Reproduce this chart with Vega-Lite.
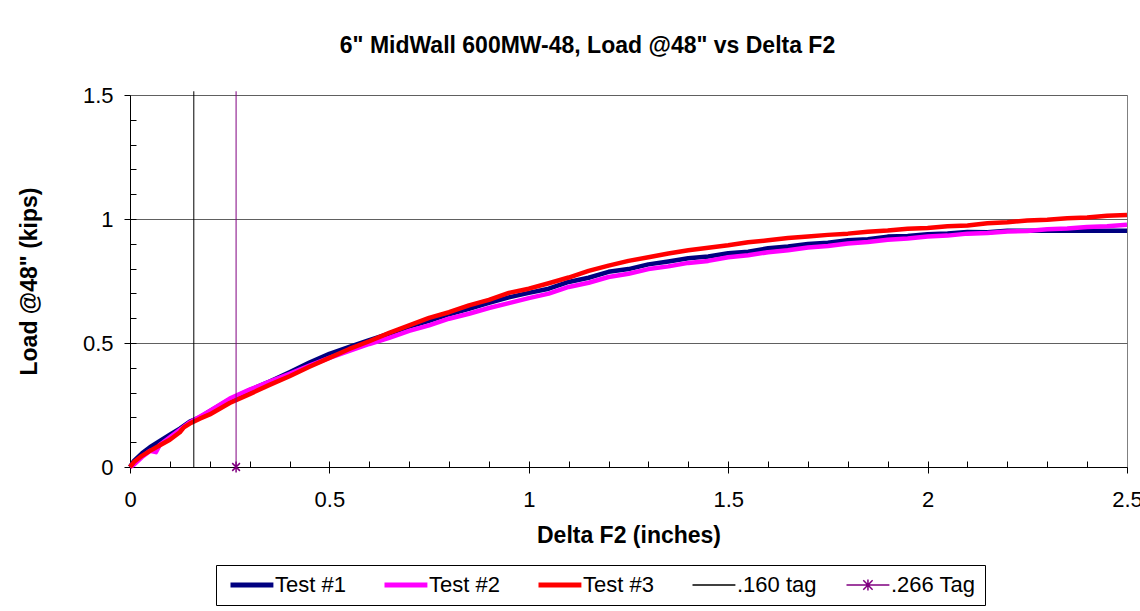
{
  "$schema": "https://vega.github.io/schema/vega-lite/v6.json",
  "width": 997,
  "height": 372,
  "autosize": "none",
  "padding": {"left": 130, "top": 95, "right": 13, "bottom": 144},
  "background": "white",
  "title": {"text": "6\" MidWall 600MW-48, Load @48\" vs Delta F2", "font": "Liberation Sans", "fontSize": 23, "fontWeight": "bold", "color": "black", "anchor": "middle", "dx": -41, "baseline": "alphabetic", "offset": 8},
  "config": {
    "view": {"stroke": "#808080", "strokeWidth": 1},
    "axis": {"labelFont": "Liberation Sans", "titleFont": "Liberation Sans", "labelColor": "black", "titleColor": "black", "tickColor": "black", "domainColor": "black"}
  },
  "data": {"values": [
    {"s":"Test #1","x":0,"y":0},{"s":"Test #1","x":0.01,"y":0.025},{"s":"Test #1","x":0.03,"y":0.055},{"s":"Test #1","x":0.05,"y":0.08},{"s":"Test #1","x":0.075,"y":0.105},{"s":"Test #1","x":0.1,"y":0.13},{"s":"Test #1","x":0.125,"y":0.155},{"s":"Test #1","x":0.15,"y":0.183},{"s":"Test #1","x":0.175,"y":0.2},{"s":"Test #1","x":0.2,"y":0.225},{"s":"Test #1","x":0.25,"y":0.272},{"s":"Test #1","x":0.3,"y":0.31},{"s":"Test #1","x":0.35,"y":0.345},{"s":"Test #1","x":0.4,"y":0.382},{"s":"Test #1","x":0.45,"y":0.421},{"s":"Test #1","x":0.5,"y":0.456},{"s":"Test #1","x":0.55,"y":0.484},{"s":"Test #1","x":0.6,"y":0.512},{"s":"Test #1","x":0.65,"y":0.538},{"s":"Test #1","x":0.7,"y":0.566},{"s":"Test #1","x":0.75,"y":0.589},{"s":"Test #1","x":0.8,"y":0.616},{"s":"Test #1","x":0.85,"y":0.638},{"s":"Test #1","x":0.9,"y":0.662},{"s":"Test #1","x":0.95,"y":0.684},{"s":"Test #1","x":1.0,"y":0.702},{"s":"Test #1","x":1.05,"y":0.719},{"s":"Test #1","x":1.1,"y":0.746},{"s":"Test #1","x":1.15,"y":0.763},{"s":"Test #1","x":1.2,"y":0.787},{"s":"Test #1","x":1.25,"y":0.798},{"s":"Test #1","x":1.3,"y":0.817},{"s":"Test #1","x":1.35,"y":0.829},{"s":"Test #1","x":1.4,"y":0.842},{"s":"Test #1","x":1.45,"y":0.849},{"s":"Test #1","x":1.5,"y":0.862},{"s":"Test #1","x":1.55,"y":0.868},{"s":"Test #1","x":1.6,"y":0.882},{"s":"Test #1","x":1.65,"y":0.889},{"s":"Test #1","x":1.7,"y":0.899},{"s":"Test #1","x":1.75,"y":0.904},{"s":"Test #1","x":1.8,"y":0.914},{"s":"Test #1","x":1.85,"y":0.918},{"s":"Test #1","x":1.9,"y":0.929},{"s":"Test #1","x":1.95,"y":0.931},{"s":"Test #1","x":2.0,"y":0.939},{"s":"Test #1","x":2.05,"y":0.942},{"s":"Test #1","x":2.1,"y":0.948},{"s":"Test #1","x":2.15,"y":0.947},{"s":"Test #1","x":2.2,"y":0.953},{"s":"Test #1","x":2.25,"y":0.953},{"s":"Test #1","x":2.3,"y":0.953},{"s":"Test #1","x":2.4,"y":0.953},{"s":"Test #1","x":2.5,"y":0.953},
    {"s":"Test #2","x":0,"y":0},{"s":"Test #2","x":0.01,"y":0.01},{"s":"Test #2","x":0.03,"y":0.04},{"s":"Test #2","x":0.05,"y":0.065},{"s":"Test #2","x":0.065,"y":0.06},{"s":"Test #2","x":0.075,"y":0.09},{"s":"Test #2","x":0.1,"y":0.12},{"s":"Test #2","x":0.125,"y":0.15},{"s":"Test #2","x":0.15,"y":0.18},{"s":"Test #2","x":0.175,"y":0.203},{"s":"Test #2","x":0.2,"y":0.226},{"s":"Test #2","x":0.25,"y":0.276},{"s":"Test #2","x":0.3,"y":0.312},{"s":"Test #2","x":0.35,"y":0.344},{"s":"Test #2","x":0.4,"y":0.376},{"s":"Test #2","x":0.45,"y":0.409},{"s":"Test #2","x":0.5,"y":0.44},{"s":"Test #2","x":0.55,"y":0.468},{"s":"Test #2","x":0.6,"y":0.496},{"s":"Test #2","x":0.65,"y":0.521},{"s":"Test #2","x":0.7,"y":0.549},{"s":"Test #2","x":0.75,"y":0.571},{"s":"Test #2","x":0.8,"y":0.598},{"s":"Test #2","x":0.85,"y":0.618},{"s":"Test #2","x":0.9,"y":0.641},{"s":"Test #2","x":0.95,"y":0.661},{"s":"Test #2","x":1.0,"y":0.681},{"s":"Test #2","x":1.05,"y":0.699},{"s":"Test #2","x":1.1,"y":0.726},{"s":"Test #2","x":1.15,"y":0.743},{"s":"Test #2","x":1.2,"y":0.766},{"s":"Test #2","x":1.25,"y":0.779},{"s":"Test #2","x":1.3,"y":0.798},{"s":"Test #2","x":1.35,"y":0.809},{"s":"Test #2","x":1.4,"y":0.823},{"s":"Test #2","x":1.45,"y":0.831},{"s":"Test #2","x":1.5,"y":0.846},{"s":"Test #2","x":1.55,"y":0.854},{"s":"Test #2","x":1.6,"y":0.866},{"s":"Test #2","x":1.65,"y":0.874},{"s":"Test #2","x":1.7,"y":0.885},{"s":"Test #2","x":1.75,"y":0.891},{"s":"Test #2","x":1.8,"y":0.901},{"s":"Test #2","x":1.85,"y":0.907},{"s":"Test #2","x":1.9,"y":0.916},{"s":"Test #2","x":1.95,"y":0.921},{"s":"Test #2","x":2.0,"y":0.929},{"s":"Test #2","x":2.05,"y":0.933},{"s":"Test #2","x":2.1,"y":0.941},{"s":"Test #2","x":2.15,"y":0.944},{"s":"Test #2","x":2.2,"y":0.95},{"s":"Test #2","x":2.25,"y":0.952},{"s":"Test #2","x":2.3,"y":0.959},{"s":"Test #2","x":2.35,"y":0.962},{"s":"Test #2","x":2.4,"y":0.968},{"s":"Test #2","x":2.45,"y":0.971},{"s":"Test #2","x":2.5,"y":0.977},
    {"s":"Test #3","x":0,"y":0},{"s":"Test #3","x":0.01,"y":0.02},{"s":"Test #3","x":0.03,"y":0.045},{"s":"Test #3","x":0.05,"y":0.065},{"s":"Test #3","x":0.075,"y":0.088},{"s":"Test #3","x":0.1,"y":0.11},{"s":"Test #3","x":0.125,"y":0.14},{"s":"Test #3","x":0.135,"y":0.16},{"s":"Test #3","x":0.15,"y":0.175},{"s":"Test #3","x":0.175,"y":0.195},{"s":"Test #3","x":0.2,"y":0.212},{"s":"Test #3","x":0.25,"y":0.258},{"s":"Test #3","x":0.3,"y":0.294},{"s":"Test #3","x":0.35,"y":0.331},{"s":"Test #3","x":0.4,"y":0.366},{"s":"Test #3","x":0.45,"y":0.404},{"s":"Test #3","x":0.5,"y":0.44},{"s":"Test #3","x":0.55,"y":0.476},{"s":"Test #3","x":0.6,"y":0.507},{"s":"Test #3","x":0.65,"y":0.541},{"s":"Test #3","x":0.7,"y":0.571},{"s":"Test #3","x":0.75,"y":0.601},{"s":"Test #3","x":0.8,"y":0.624},{"s":"Test #3","x":0.85,"y":0.652},{"s":"Test #3","x":0.9,"y":0.674},{"s":"Test #3","x":0.95,"y":0.702},{"s":"Test #3","x":1.0,"y":0.719},{"s":"Test #3","x":1.05,"y":0.741},{"s":"Test #3","x":1.1,"y":0.764},{"s":"Test #3","x":1.15,"y":0.791},{"s":"Test #3","x":1.2,"y":0.812},{"s":"Test #3","x":1.25,"y":0.831},{"s":"Test #3","x":1.3,"y":0.846},{"s":"Test #3","x":1.35,"y":0.861},{"s":"Test #3","x":1.4,"y":0.874},{"s":"Test #3","x":1.45,"y":0.884},{"s":"Test #3","x":1.5,"y":0.894},{"s":"Test #3","x":1.55,"y":0.906},{"s":"Test #3","x":1.6,"y":0.914},{"s":"Test #3","x":1.65,"y":0.923},{"s":"Test #3","x":1.7,"y":0.929},{"s":"Test #3","x":1.75,"y":0.936},{"s":"Test #3","x":1.8,"y":0.941},{"s":"Test #3","x":1.85,"y":0.949},{"s":"Test #3","x":1.9,"y":0.954},{"s":"Test #3","x":1.95,"y":0.961},{"s":"Test #3","x":2.0,"y":0.964},{"s":"Test #3","x":2.05,"y":0.971},{"s":"Test #3","x":2.1,"y":0.974},{"s":"Test #3","x":2.15,"y":0.983},{"s":"Test #3","x":2.2,"y":0.987},{"s":"Test #3","x":2.25,"y":0.994},{"s":"Test #3","x":2.3,"y":0.997},{"s":"Test #3","x":2.35,"y":1.003},{"s":"Test #3","x":2.4,"y":1.006},{"s":"Test #3","x":2.45,"y":1.013},{"s":"Test #3","x":2.5,"y":1.016},
    {"s":".160 tag","x":0.16,"y":0},{"s":".160 tag","x":0.16,"y":1.515},
    {"s":".266 Tag","x":0.266,"y":0},{"s":".266 Tag","x":0.266,"y":1.515}
  ]},
  "resolve": {"axis": {"x": "independent", "y": "independent"}},
  "layer": [
    {
      "transform": [{"filter": "datum.s === 'Test #1'"}],
      "mark": {"type": "line", "strokeWidth": 4.5, "strokeJoin": "round"},
      "encoding": {
        "x": {"field": "x", "type": "quantitative", "scale": {"domain": [0, 2.5], "nice": false, "zero": false},
          "axis": {"orient": "bottom", "values": [0, 0.5, 1, 1.5, 2, 2.5], "format": "~g", "title": "Delta  F2 (inches)", "titleFontSize": 23, "titleFontWeight": "bold", "titlePadding": 14, "labelFontSize": 22, "labelPadding": 16, "tickSize": 6, "grid": false, "labelFlush": false, "labelOverlap": false}},
        "y": {"field": "y", "type": "quantitative", "scale": {"domain": [0, 1.5], "nice": false, "zero": false},
          "axis": {"orient": "left", "values": [0, 0.5, 1, 1.5], "format": "~g", "title": "Load @48\" (kips)", "titleFontSize": 23, "titleFontWeight": "bold", "titlePadding": 41, "labelFontSize": 22, "labelPadding": 11, "tickSize": 6, "grid": true, "gridColor": "#606060", "gridWidth": 1, "gridOpacity": 1, "labelFlush": false, "labelOverlap": false}},
        "color": {"field": "s", "type": "nominal",
          "scale": {"domain": ["Test #1", "Test #2", "Test #3", ".160 tag", ".266 Tag"], "range": ["#000080", "#FF00FF", "#FF0000", "#000000", "#800080"]},
          "legend": {"orient": "none", "legendX": 86, "legendY": 470, "direction": "horizontal", "columns": 5, "gridAlign": "all", "columnPadding": 14, "title": null,
            "labelFont": "Liberation Sans", "labelFontSize": 22, "labelColor": "black", "labelLimit": 200,
            "symbolType": "M-1,0L6.8,0", "symbolSize": 121, "labelOffset": 28, "symbolStrokeWidth": 5,
            "strokeColor": "black", "fillColor": "white", "padding": 9,
            "encode": {"symbols": {"update": {
              "shape": {"signal": "datum.value === '.266 Tag' ? 'M-1,0L6.8,0M2.05,-0.85L3.75,0.85M2.05,0.85L3.75,-0.85M2.9,-1L2.9,1' : 'M-1,0L6.8,0'"},
              "strokeWidth": {"signal": "(datum.value === '.160 tag' || datum.value === '.266 Tag') ? 1.5 : 5"}
            }}}
          }}
      }
    },
    {
      "transform": [{"filter": "datum.s === 'Test #2'"}],
      "mark": {"type": "line", "strokeWidth": 4.5, "strokeJoin": "round"},
      "encoding": {
        "x": {"field": "x", "type": "quantitative",
          "axis": {"orient": "bottom", "values": [0.1,0.2,0.3,0.4,0.5,0.6,0.7,0.8,0.9,1,1.1,1.2,1.3,1.4,1.5,1.6,1.7,1.8,1.9,2,2.1,2.2,2.3,2.4], "labels": false, "domain": false, "grid": false, "title": null, "tickSize": -6}},
        "y": {"field": "y", "type": "quantitative",
          "axis": {"orient": "left", "values": [0.1,0.2,0.3,0.4,0.5,0.6,0.7,0.8,0.9,1,1.1,1.2,1.3,1.4], "labels": false, "domain": false, "grid": false, "title": null, "tickSize": -6}},
        "color": {"field": "s", "type": "nominal"}
      }
    },
    {
      "transform": [{"filter": "datum.s === 'Test #3'"}],
      "mark": {"type": "line", "strokeWidth": 4.5, "strokeJoin": "round"},
      "encoding": {
        "x": {"field": "x", "type": "quantitative", "axis": null},
        "y": {"field": "y", "type": "quantitative", "axis": null},
        "color": {"field": "s", "type": "nominal"}
      }
    },
    {
      "transform": [{"filter": "datum.s === '.160 tag'"}],
      "mark": {"type": "line", "strokeWidth": 1},
      "encoding": {
        "x": {"field": "x", "type": "quantitative", "axis": null},
        "y": {"field": "y", "type": "quantitative", "axis": null},
        "color": {"field": "s", "type": "nominal"}
      }
    },
    {
      "transform": [{"filter": "datum.s === '.266 Tag'"}],
      "mark": {"type": "line", "strokeWidth": 1},
      "encoding": {
        "x": {"field": "x", "type": "quantitative", "axis": null},
        "y": {"field": "y", "type": "quantitative", "axis": null},
        "color": {"field": "s", "type": "nominal"}
      }
    },
    {
      "transform": [{"filter": "datum.s === '.266 Tag' && datum.y === 0"}],
      "mark": {"type": "point", "shape": "M-0.7,-0.7L0.7,0.7M-0.7,0.7L0.7,-0.7M0,-1L0,1", "size": 121, "filled": false, "stroke": "#800080", "strokeWidth": 1.5, "opacity": 1},
      "encoding": {
        "x": {"field": "x", "type": "quantitative", "axis": null},
        "y": {"field": "y", "type": "quantitative", "axis": null}
      }
    }
  ]
}
